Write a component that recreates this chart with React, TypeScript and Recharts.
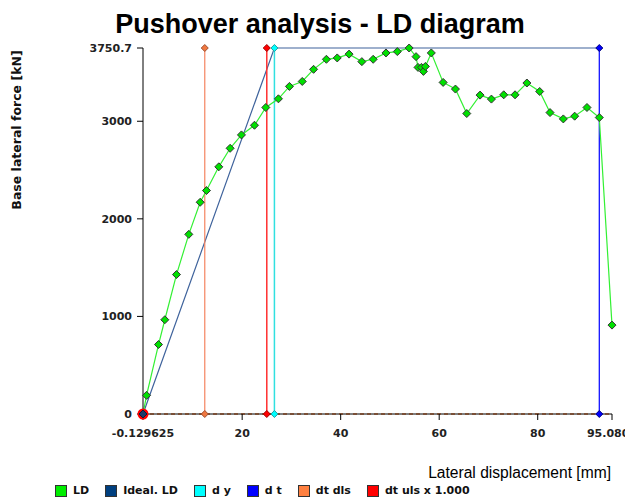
import React from "react";
import { ComposedChart, Line, XAxis, YAxis } from "recharts";

// LD curve
const ldDisp = [
  -0.129625, 0.59, 3.02, 4.3, 6.67, 9.17, 11.48, 12.76, 15.26, 17.56, 19.86, 22.5, 24.8, 27.36, 29.6, 32.2,
  34.5, 37.1, 39.3, 41.7, 44.3, 46.6, 49.2, 51.5, 53.9, 55.3, 55.7, 56.4, 56.8, 57.2, 58.4, 60.8, 63.3, 65.6,
  68.3, 70.6, 73.1, 75.4, 77.8, 80.4, 82.5, 85.2, 87.5, 90.0, 92.5, 95.0806,
];
const ldForce = [
  0, 191, 712, 966, 1429, 1841, 2170, 2290, 2533, 2723, 2860, 2959, 3141, 3230, 3357, 3408, 3532, 3635, 3649,
  3688, 3611, 3635, 3700, 3714, 3750.7, 3662, 3552, 3552, 3511, 3562, 3700, 3398, 3330, 3079, 3268, 3227,
  3271, 3271, 3392, 3305, 3089, 3024, 3052, 3141, 3038, 911,
];

const fMax = 3750.7;
const dY = 26.55;
const dT = 92.5;
const dtDls = 12.41;
const dtUls = 25.0;
const xMin = -0.129625;
const xMax = 95.0806;

const xTicks = [xMin, 20, 40, 60, 80, xMax];
const yTicks = [0, 1000, 2000, 3000, fMax];

const legendItems = [
  { name: "LD", color: "#00ee00" },
  { name: "Ideal. LD", color: "#003f7f" },
  { name: "d y", color: "#00ffff" },
  { name: "d t", color: "#0000ff" },
  { name: "dt dls", color: "#ff8040" },
  { name: "dt uls x 1.000", color: "#ff0000" },
];

const ldData = ldDisp.map((x, i) => ({ x, y: ldForce[i] }));
const idealData = [
  { x: xMin, y: 0 },
  { x: dY, y: fMax },
  { x: dT, y: fMax },
];
const vertical = (x: number) => [
  { x, y: 0 },
  { x, y: fMax },
];
const baseLine = [
  { x: xMin, y: 0 },
  { x: xMax, y: 0 },
];

const diamond = (fill: string, stroke: string, r = 3.5) => (props: any) => {
  const { cx, cy, index } = props;
  if (cx == null || cy == null) return <g key={`d-${index}`} />;
  return (
    <path
      key={`d-${index}`}
      d={`M${cx},${cy - r}L${cx + r},${cy}L${cx},${cy + r}L${cx - r},${cy}Z`}
      fill={fill}
      stroke={stroke}
      strokeWidth={1}
      strokeLinejoin="round"
    />
  );
};

const ldDot = (props: any) => {
  const { cx, cy, index } = props;
  if (index === 0) return <circle key="ld-0" cx={cx} cy={cy} r={5.5} fill="#ff0000" />;
  return diamond("#00e000", "#333333", 4)(props);
};

const tickStyle = { fill: "#222", fontFamily: "DejaVu Sans", fontWeight: "bold", fontSize: 11 };

export default function App() {
  return (
    <div style={{ position: "absolute", left: 0, top: 0, width: 625, height: 497, background: "#fff" }}>
      <div
        style={{
          position: "absolute",
          left: 0,
          width: 640,
          top: 11,
          textAlign: "center",
          fontFamily: "Liberation Sans",
          fontWeight: "bold",
          fontSize: 27,
          lineHeight: "27px",
          color: "#000",
        }}
      >
        Pushover analysis - LD diagram
      </div>
      <div
        style={{
          position: "absolute",
          left: 17 - 110,
          top: 130 - 8,
          width: 220,
          height: 16,
          lineHeight: "16px",
          textAlign: "center",
          transform: "rotate(-90deg)",
          fontFamily: "DejaVu Sans",
          fontWeight: "bold",
          fontSize: 12.5,
          color: "#111",
        }}
      >
        Base lateral force [kN]
      </div>
      <ComposedChart width={625} height={497} margin={{ top: 48, right: 13, bottom: 53, left: 73 }}>
        <XAxis
          type="number"
          dataKey="x"
          domain={[xMin, xMax]}
          ticks={xTicks}
          tickFormatter={(v) => String(v)}
          height={30}
          tickSize={6}
          tickMargin={9}
          tick={tickStyle}
          stroke="#000"
          interval={0}
        />
        <YAxis
          type="number"
          dataKey="y"
          domain={[0, fMax]}
          ticks={yTicks}
          tickFormatter={(v) => String(v)}
          width={70}
          tickSize={6}
          tickMargin={5}
          tick={tickStyle}
          stroke="#000"
          interval={0}
        />
        <Line data={baseLine} dataKey="y" stroke="#f08040" strokeWidth={1.5} strokeDasharray="4 3" dot={false} isAnimationActive={false} />
        <Line data={idealData} dataKey="y" stroke="#3f639c" strokeWidth={1.2} dot={false} isAnimationActive={false} />
        <Line data={vertical(dtDls)} dataKey="y" stroke="#f4845f" strokeWidth={1.2} dot={diamond("#f07840", "#a05030")} isAnimationActive={false} />
        <Line data={vertical(dtUls)} dataKey="y" stroke="#ff3030" strokeWidth={1.5} dot={diamond("#ff0000", "#a00000")} isAnimationActive={false} />
        <Line data={vertical(dY)} dataKey="y" stroke="#30e0e0" strokeWidth={1.5} dot={diamond("#00ffff", "#20a0a0")} isAnimationActive={false} />
        <Line data={vertical(dT)} dataKey="y" stroke="#0000ff" strokeWidth={1.2} dot={diamond("#0000ff", "#000080")} isAnimationActive={false} />
        <Line data={ldData} dataKey="y" stroke="#33f033" strokeWidth={1.2} dot={ldDot} isAnimationActive={false} />
        <Line data={idealData.slice(0, 1)} dataKey="y" stroke="none" dot={diamond("#1a3a6a", "#0a1a3a", 4)} isAnimationActive={false} />
      </ComposedChart>
      <div
        style={{
          position: "absolute",
          right: 14,
          top: 464,
          fontFamily: "Liberation Sans",
          fontSize: 15.6,
          lineHeight: "18px",
          color: "#000",
        }}
      >
        Lateral displacement [mm]
      </div>
      <div
        style={{
          position: "absolute",
          left: 55,
          top: 485,
          display: "flex",
          gap: 16,
          fontFamily: "DejaVu Sans",
          fontWeight: "bold",
          fontSize: 11,
          lineHeight: "12px",
          color: "#111",
        }}
      >
        {legendItems.map((it) => (
          <div key={it.name} style={{ display: "flex", alignItems: "center", gap: 6 }}>
            <div style={{ width: 10, height: 10, background: it.color, border: "1px solid #333" }} />
            <span style={{ whiteSpace: "pre" }}>{it.name}</span>
          </div>
        ))}
      </div>
    </div>
  );
}
